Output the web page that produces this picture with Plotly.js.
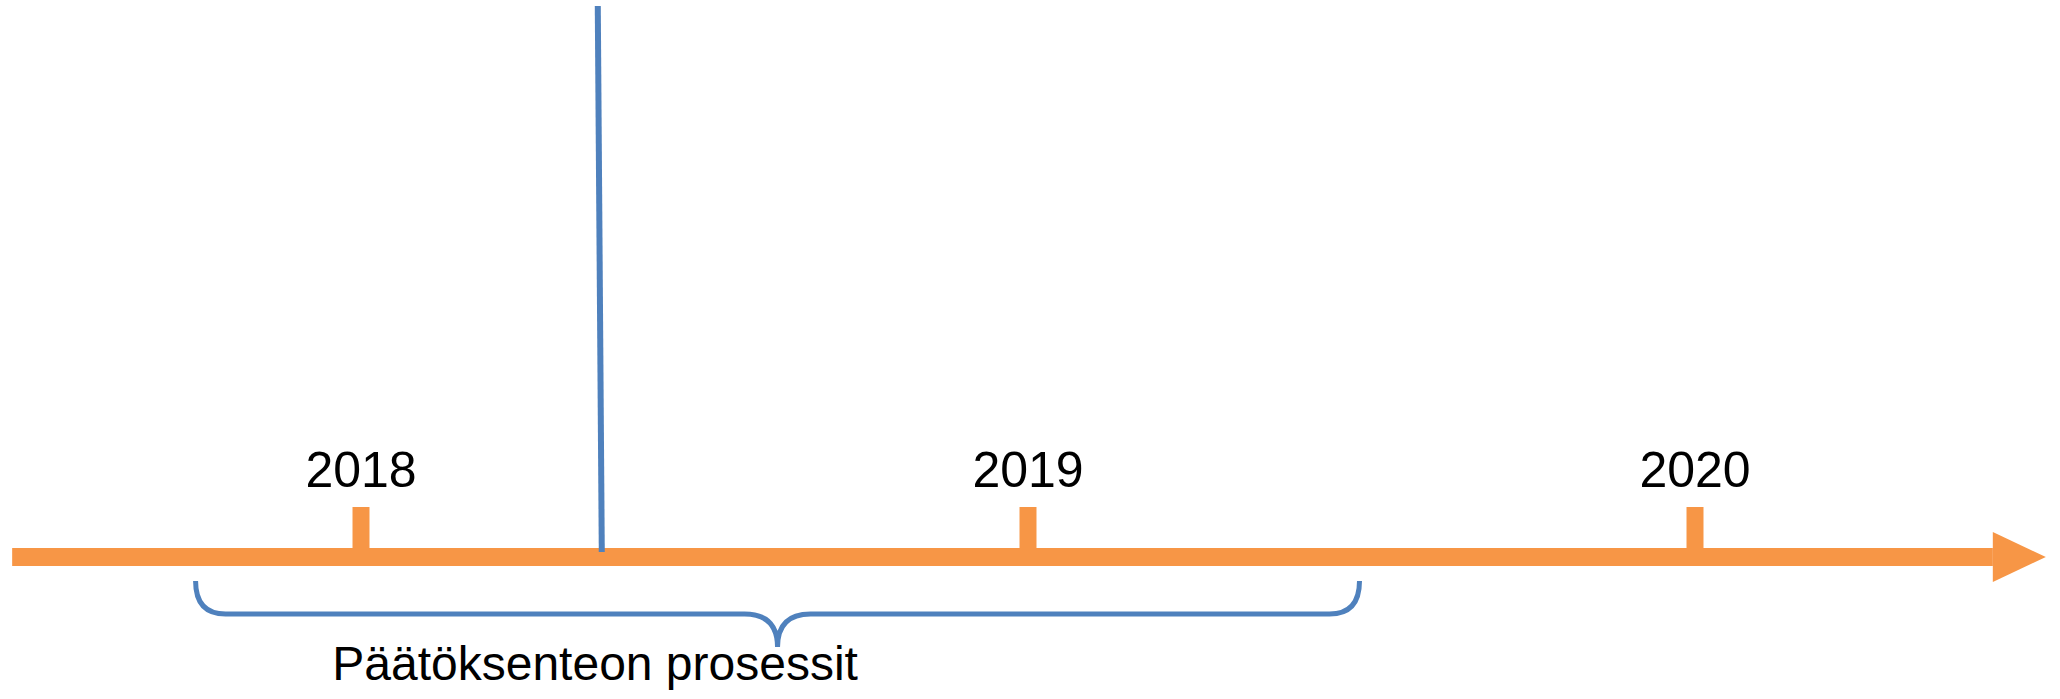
<!DOCTYPE html>
<html>
<head>
<meta charset="utf-8">
<script src="https://cdn.plot.ly/plotly-3.0.1.min.js"></script>
<style>html,body{margin:0;padding:0;background:#fff;overflow:hidden}</style>
</head>
<body>
<div id="chart" style="width:2060px;height:699px"></div>
<script>
// ---- data ----
const years = [2018, 2019, 2020];
const yearLabels = ['2018', '2019', '2020'];
const timelineStart = 2017.477;
const timelineEnd = 2020.526;
const eventLineTop = 2018.355;
const eventLineBottom = 2018.361;
const braceSpan = [2017.752, 2019.497];
const braceLabel = 'Päätöksenteon prosessit';
const braceLabelX = 2018.351;

// ---- layout constants (pixels) ----
const W = 2060, H = 699;
const PX_PER_YEAR = 667, ORIGIN_PX = 361;
const u = px => px / PX_PER_YEAR;
const xRange = [2018 - u(ORIGIN_PX), 2018 + u(W - ORIGIN_PX)];
const ORANGE = '#F79646', BLUE = '#4F81BD';
const FONT = 'Liberation Sans, Arial, sans-serif';
const axisY = 557, tickTop = 507, labelY = 474;
const arrowLen = 53, arrowHalf = 25;
const lineTopY = 6, lineBottomY = 552;
const braceTop = 581, braceMid = 614, braceTip = 647;
const endR = u(30), midR = u(33);
const braceTextY = 668;

const arrowBase = timelineEnd - u(arrowLen);

const tickX = [], tickY = [];
years.forEach(y => { tickX.push(y, y, null); tickY.push(tickTop, axisY, null); });

const traces = [
  { x: [timelineStart, arrowBase], y: [axisY, axisY], mode: 'lines',
    line: { color: ORANGE, width: 18 } },
  { x: [arrowBase, timelineEnd, arrowBase, arrowBase], y: [axisY - arrowHalf, axisY, axisY + arrowHalf, axisY - arrowHalf],
    mode: 'lines', fill: 'toself', fillcolor: ORANGE, line: { color: ORANGE, width: 0 } },
  { x: tickX, y: tickY, mode: 'lines', line: { color: ORANGE, width: 17 } },
  { x: years, y: years.map(() => labelY), mode: 'text', text: yearLabels,
    textposition: 'middle center', textfont: { family: FONT, size: 50, color: '#000' } },
  { x: [eventLineTop, eventLineBottom], y: [lineTopY, lineBottomY], mode: 'lines',
    line: { color: BLUE, width: 6 } },
  { x: [braceLabelX], y: [braceTextY], mode: 'text', text: [braceLabel],
    textposition: 'middle center', textfont: { family: FONT, size: 48, color: '#000' } }
];

const a = braceSpan[0], b = braceSpan[1], c = (a + b) / 2;
const bracePath = `M ${a} ${braceTop} Q ${a} ${braceMid} ${a + endR} ${braceMid} ` +
  `L ${c - midR} ${braceMid} Q ${c} ${braceMid} ${c} ${braceTip} ` +
  `Q ${c} ${braceMid} ${c + midR} ${braceMid} L ${b - endR} ${braceMid} ` +
  `Q ${b} ${braceMid} ${b} ${braceTop}`;

const layout = {
  width: W, height: H,
  margin: { l: 0, r: 0, t: 0, b: 0, pad: 0 },
  paper_bgcolor: '#fff', plot_bgcolor: '#fff',
  showlegend: false, hovermode: false,
  xaxis: { range: xRange, visible: false, showgrid: false, zeroline: false, fixedrange: true },
  yaxis: { range: [H, 0], visible: false, showgrid: false, zeroline: false, fixedrange: true },
  shapes: [
    { type: 'path', xref: 'x', yref: 'y', path: bracePath,
      line: { color: BLUE, width: 5 }, fillcolor: 'rgba(0,0,0,0)' }
  ]
};

Plotly.newPlot('chart', traces, layout, { staticPlot: true, displayModeBar: false });
</script>
</body>
</html>
